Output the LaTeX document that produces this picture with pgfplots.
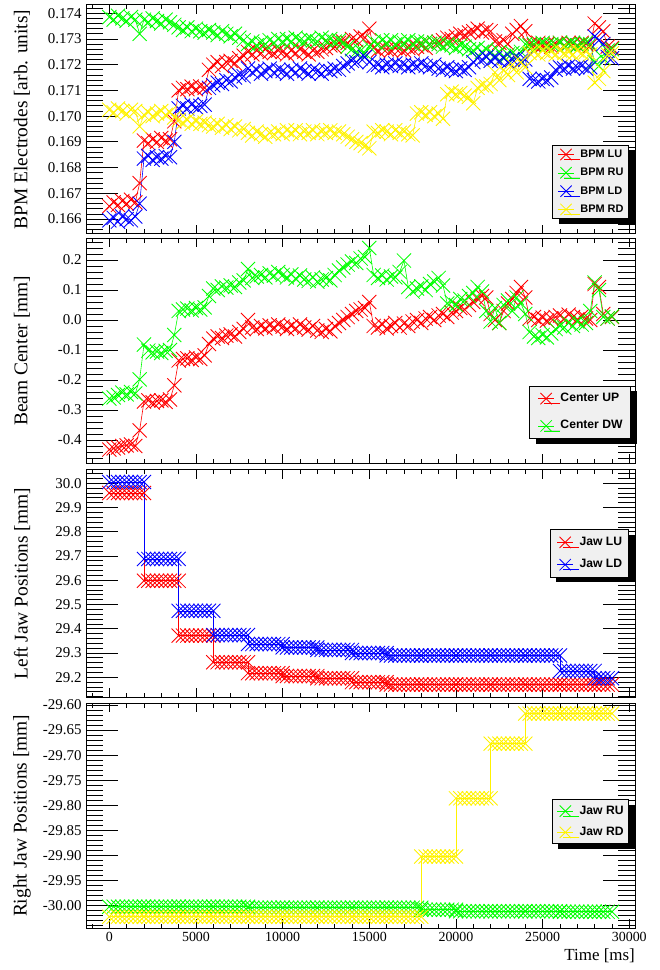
\documentclass[border=0pt]{standalone}
\usepackage{pgfplots}
\pgfplotsset{compat=1.18}
\usepackage{pgfplotstable}
\usepackage{fontspec}
\setmainfont{Liberation Serif}
\setsansfont{Liberation Sans}
\usetikzlibrary{shadows}
\definecolor{legbg}{RGB}{240,240,240}

\pgfplotstableread{
t LU RU LD RD
0 0.16650 0.17385 0.16595 0.17025
250 0.16665 0.17375 0.16605 0.17015
500 0.16655 0.17390 0.16590 0.17030
750 0.16670 0.17380 0.16610 0.17020
1000 0.16660 0.17370 0.16600 0.17010
1250 0.16675 0.17385 0.16595 0.17025
1500 0.16665 0.17375 0.16610 0.17020
1750 0.16740 0.17320 0.16660 0.16960
2000 0.16905 0.17375 0.16835 0.17005
2250 0.16895 0.17365 0.16845 0.17015
2500 0.16910 0.17380 0.16830 0.17000
2750 0.16900 0.17370 0.16840 0.17010
3000 0.16915 0.17360 0.16835 0.17020
3250 0.16905 0.17375 0.16845 0.17005
3500 0.16910 0.17365 0.16840 0.17015
3750 0.16980 0.17355 0.16900 0.16995
4000 0.17100 0.17345 0.17030 0.16985
4250 0.17110 0.17335 0.17040 0.16975
4500 0.17105 0.17345 0.17030 0.16985
4750 0.17115 0.17330 0.17045 0.16970
5000 0.17105 0.17340 0.17035 0.16980
5250 0.17115 0.17330 0.17040 0.16970
5500 0.17110 0.17325 0.17045 0.16975
5750 0.17180 0.17335 0.17110 0.16965
6000 0.17200 0.17325 0.17120 0.16960
6250 0.17210 0.17315 0.17130 0.16970
6500 0.17195 0.17330 0.17125 0.16955
6750 0.17210 0.17320 0.17140 0.16965
7000 0.17215 0.17310 0.17135 0.16950
7250 0.17205 0.17320 0.17150 0.16960
7500 0.17225 0.17305 0.17160 0.16945
7750 0.17235 0.17295 0.17155 0.16950
8000 0.17250 0.17280 0.17185 0.16935
8250 0.17240 0.17290 0.17170 0.16925
8500 0.17255 0.17275 0.17180 0.16940
8750 0.17245 0.17285 0.17165 0.16930
9000 0.17260 0.17280 0.17175 0.16920
9250 0.17250 0.17295 0.17185 0.16935
9500 0.17245 0.17285 0.17170 0.16930
9750 0.17255 0.17300 0.17180 0.16940
10000 0.17250 0.17290 0.17175 0.16930
10250 0.17240 0.17300 0.17165 0.16945
10500 0.17255 0.17290 0.17180 0.16935
10750 0.17245 0.17305 0.17170 0.16945
11000 0.17260 0.17295 0.17185 0.16930
11250 0.17250 0.17290 0.17175 0.16940
11500 0.17240 0.17300 0.17165 0.16935
11750 0.17255 0.17295 0.17180 0.16945
12000 0.17250 0.17290 0.17175 0.16930
12250 0.17260 0.17305 0.17165 0.16940
12500 0.17265 0.17295 0.17180 0.16935
12750 0.17275 0.17300 0.17175 0.16945
13000 0.17270 0.17290 0.17185 0.16935
13250 0.17285 0.17295 0.17180 0.16940
13500 0.17290 0.17285 0.17195 0.16930
13750 0.17285 0.17270 0.17205 0.16920
14000 0.17300 0.17260 0.17215 0.16910
14250 0.17295 0.17250 0.17210 0.16900
14500 0.17310 0.17255 0.17225 0.16895
14750 0.17305 0.17245 0.17230 0.16885
15000 0.17340 0.17270 0.17210 0.16875
15250 0.17265 0.17290 0.17195 0.16940
15500 0.17255 0.17280 0.17200 0.16935
15750 0.17265 0.17295 0.17190 0.16945
16000 0.17260 0.17285 0.17200 0.16940
16250 0.17255 0.17295 0.17195 0.16930
16500 0.17265 0.17280 0.17205 0.16945
16750 0.17260 0.17290 0.17195 0.16935
17000 0.17255 0.17285 0.17200 0.16940
17250 0.17265 0.17295 0.17190 0.16930
17500 0.17260 0.17280 0.17200 0.16925
17750 0.17270 0.17290 0.17195 0.17010
18000 0.17275 0.17285 0.17205 0.17015
18250 0.17265 0.17290 0.17195 0.17005
18500 0.17280 0.17280 0.17190 0.17015
18750 0.17285 0.17285 0.17200 0.17000
19000 0.17290 0.17280 0.17185 0.17010
19250 0.17295 0.17270 0.17180 0.16990
19500 0.17305 0.17280 0.17190 0.17085
19750 0.17300 0.17275 0.17180 0.17095
20000 0.17310 0.17265 0.17175 0.17085
20250 0.17320 0.17275 0.17185 0.17090
20500 0.17315 0.17270 0.17180 0.17080
20750 0.17325 0.17260 0.17190 0.17075
21000 0.17330 0.17255 0.17210 0.17050
21250 0.17340 0.17265 0.17225 0.17110
21500 0.17325 0.17250 0.17220 0.17120
21750 0.17335 0.17260 0.17230 0.17115
22000 0.17330 0.17245 0.17215 0.17125
22250 0.17290 0.17235 0.17225 0.17170
22500 0.17285 0.17250 0.17215 0.17140
22750 0.17295 0.17230 0.17225 0.17180
23000 0.17280 0.17240 0.17210 0.17160
23250 0.17320 0.17245 0.17220 0.17200
23500 0.17335 0.17235 0.17225 0.17170
23750 0.17350 0.17250 0.17215 0.17210
24000 0.17330 0.17280 0.17220 0.17190
24250 0.17280 0.17275 0.17145 0.17245
24500 0.17275 0.17280 0.17140 0.17250
24750 0.17285 0.17275 0.17135 0.17240
25000 0.17275 0.17285 0.17145 0.17255
25250 0.17280 0.17275 0.17140 0.17245
25500 0.17270 0.17280 0.17150 0.17250
25750 0.17280 0.17275 0.17180 0.17240
26000 0.17285 0.17285 0.17190 0.17255
26250 0.17275 0.17275 0.17185 0.17245
26500 0.17285 0.17280 0.17195 0.17250
26750 0.17280 0.17285 0.17185 0.17240
27000 0.17275 0.17275 0.17190 0.17255
27250 0.17285 0.17280 0.17195 0.17245
27500 0.17280 0.17285 0.17185 0.17250
27750 0.17275 0.17280 0.17190 0.17240
28000 0.17360 0.17210 0.17310 0.17130
28250 0.17345 0.17195 0.17295 0.17145
28500 0.17330 0.17225 0.17280 0.17175
28750 0.17270 0.17255 0.17230 0.17240
29000 0.17265 0.17260 0.17225 0.17245
}\bpmtab

\pgfplotstableread{
t UP DW
0 -0.432 -0.262
250 -0.428 -0.258
500 -0.425 -0.250
750 -0.420 -0.242
1000 -0.418 -0.248
1250 -0.415 -0.240
1500 -0.420 -0.245
1750 -0.368 -0.198
2000 -0.272 -0.082
2250 -0.268 -0.102
2500 -0.275 -0.108
2750 -0.270 -0.105
3000 -0.268 -0.110
3250 -0.273 -0.103
3500 -0.265 -0.100
3750 -0.218 -0.050
4000 -0.135 0.030
4250 -0.130 0.035
4500 -0.128 0.038
4750 -0.133 0.032
5000 -0.125 0.040
5250 -0.130 0.035
5500 -0.118 0.042
5750 -0.080 0.080
6000 -0.062 0.105
6250 -0.055 0.100
6500 -0.060 0.112
6750 -0.052 0.108
7000 -0.048 0.115
7250 -0.055 0.110
7500 -0.040 0.125
7750 -0.030 0.132
8000 0.000 0.170
8250 -0.025 0.140
8500 -0.030 0.145
8750 -0.020 0.150
9000 -0.028 0.142
9250 -0.018 0.155
9500 -0.025 0.148
9750 -0.015 0.160
10000 -0.022 0.150
10250 -0.030 0.142
10500 -0.020 0.152
10750 -0.028 0.138
11000 -0.015 0.148
11250 -0.025 0.135
11500 -0.032 0.130
11750 -0.020 0.142
12000 -0.035 0.128
12250 -0.040 0.135
12500 -0.030 0.140
12750 -0.038 0.132
13000 -0.020 0.150
13250 -0.010 0.165
13500 0.000 0.175
13750 0.010 0.185
14000 0.020 0.195
14250 0.030 0.190
14500 0.035 0.205
14750 0.040 0.210
15000 0.060 0.240
15250 -0.020 0.150
15500 -0.025 0.140
15750 -0.015 0.148
16000 -0.028 0.135
16250 -0.020 0.145
16500 -0.010 0.142
16750 -0.025 0.160
17000 -0.012 0.198
17250 -0.020 0.110
17500 -0.005 0.095
17750 0.000 0.105
18000 -0.010 0.112
18250 0.005 0.100
18500 0.010 0.120
18750 0.000 0.128
19000 0.015 0.140
19250 0.020 0.115
19500 0.010 0.055
19750 0.025 0.060
20000 0.030 0.050
20250 0.040 0.070
20500 0.035 0.065
20750 0.050 0.080
21000 0.060 0.090
21250 0.070 0.110
21500 0.080 0.095
21750 0.075 0.030
22000 0.020 -0.005
22250 0.000 0.040
22500 -0.010 -0.010
22750 0.030 0.050
23000 0.055 0.065
23250 0.070 0.030
23500 0.090 0.075
23750 0.110 0.055
24000 0.075 0.020
24250 0.005 -0.040
24500 0.010 -0.055
24750 0.000 -0.060
25000 0.008 -0.050
25250 -0.002 -0.058
25500 0.005 -0.045
25750 0.010 -0.030
26000 0.015 -0.020
26250 0.005 -0.025
26500 0.018 -0.010
26750 0.010 -0.020
27000 0.002 -0.005
27250 0.012 -0.015
27500 0.005 -0.010
27750 0.000 0.030
28000 0.120 0.125
28250 0.110 0.100
28500 0.020 0.010
28750 0.005 0.005
29000 0.010 0.012
}\centertab

\pgfplotstableread{
t LU LD RU RD
0 29.960 30.005 -30.002 -30.022
250 29.960 30.005 -30.002 -30.022
500 29.960 30.005 -30.002 -30.022
750 29.960 30.005 -30.002 -30.022
1000 29.960 30.005 -30.002 -30.022
1250 29.960 30.005 -30.002 -30.022
1500 29.960 30.005 -30.002 -30.022
1750 29.960 30.005 -30.002 -30.022
2000 29.960 30.005 -30.002 -30.022
2000 29.598 29.688 -30.002 -30.022
2250 29.598 29.688 -30.002 -30.022
2500 29.598 29.688 -30.002 -30.022
2750 29.598 29.688 -30.002 -30.022
3000 29.598 29.688 -30.002 -30.022
3250 29.598 29.688 -30.002 -30.022
3500 29.598 29.688 -30.002 -30.022
3750 29.598 29.688 -30.002 -30.022
4000 29.598 29.688 -30.002 -30.022
4000 29.372 29.474 -30.002 -30.022
4250 29.372 29.474 -30.002 -30.022
4500 29.372 29.474 -30.002 -30.022
4750 29.372 29.474 -30.002 -30.022
5000 29.372 29.474 -30.002 -30.022
5250 29.372 29.474 -30.002 -30.022
5500 29.372 29.474 -30.002 -30.022
5750 29.372 29.474 -30.002 -30.022
6000 29.372 29.474 -30.002 -30.022
6000 29.262 29.374 -30.002 -30.022
6250 29.262 29.374 -30.002 -30.022
6500 29.262 29.374 -30.002 -30.022
6750 29.262 29.374 -30.002 -30.022
7000 29.262 29.374 -30.002 -30.022
7250 29.262 29.374 -30.002 -30.022
7500 29.262 29.374 -30.002 -30.022
7750 29.262 29.374 -30.002 -30.022
8000 29.262 29.374 -30.002 -30.022
8000 29.217 29.337 -30.004 -30.022
8250 29.217 29.337 -30.004 -30.022
8500 29.217 29.337 -30.004 -30.022
8750 29.217 29.337 -30.004 -30.022
9000 29.217 29.337 -30.004 -30.022
9250 29.217 29.337 -30.004 -30.022
9500 29.217 29.337 -30.004 -30.022
9750 29.217 29.337 -30.004 -30.022
10000 29.217 29.337 -30.004 -30.022
10000 29.205 29.323 -30.004 -30.022
10250 29.205 29.323 -30.004 -30.022
10500 29.205 29.323 -30.004 -30.022
10750 29.205 29.323 -30.004 -30.022
11000 29.205 29.323 -30.004 -30.022
11250 29.205 29.323 -30.004 -30.022
11500 29.205 29.323 -30.004 -30.022
11750 29.205 29.323 -30.004 -30.022
12000 29.205 29.323 -30.004 -30.022
12000 29.196 29.313 -30.004 -30.022
12250 29.196 29.313 -30.004 -30.022
12500 29.196 29.313 -30.004 -30.022
12750 29.196 29.313 -30.004 -30.022
13000 29.196 29.313 -30.004 -30.022
13250 29.196 29.313 -30.004 -30.022
13500 29.196 29.313 -30.004 -30.022
13750 29.196 29.313 -30.004 -30.022
14000 29.196 29.313 -30.004 -30.022
14000 29.180 29.300 -30.004 -30.022
14250 29.180 29.300 -30.004 -30.022
14500 29.180 29.300 -30.004 -30.022
14750 29.180 29.300 -30.004 -30.022
15000 29.180 29.300 -30.004 -30.022
15250 29.180 29.300 -30.004 -30.022
15500 29.180 29.300 -30.004 -30.022
15750 29.180 29.300 -30.004 -30.022
16000 29.180 29.300 -30.004 -30.022
16000 29.170 29.290 -30.004 -30.022
16250 29.170 29.290 -30.004 -30.022
16500 29.170 29.290 -30.004 -30.022
16750 29.170 29.290 -30.004 -30.022
17000 29.170 29.290 -30.004 -30.022
17250 29.170 29.290 -30.004 -30.022
17500 29.170 29.290 -30.004 -30.022
17750 29.170 29.290 -30.004 -30.022
18000 29.170 29.290 -30.004 -30.022
18000 29.170 29.290 -30.008 -29.902
18250 29.170 29.290 -30.008 -29.902
18500 29.170 29.290 -30.008 -29.902
18750 29.170 29.290 -30.008 -29.902
19000 29.170 29.290 -30.008 -29.902
19250 29.170 29.290 -30.008 -29.902
19500 29.170 29.290 -30.008 -29.902
19750 29.170 29.290 -30.008 -29.902
20000 29.170 29.290 -30.008 -29.902
20000 29.170 29.290 -30.011 -29.786
20250 29.170 29.290 -30.011 -29.786
20500 29.170 29.290 -30.011 -29.786
20750 29.170 29.290 -30.011 -29.786
21000 29.170 29.290 -30.011 -29.786
21250 29.170 29.290 -30.011 -29.786
21500 29.170 29.290 -30.011 -29.786
21750 29.170 29.290 -30.011 -29.786
22000 29.170 29.290 -30.011 -29.786
22000 29.170 29.290 -30.011 -29.677
22250 29.170 29.290 -30.011 -29.677
22500 29.170 29.290 -30.011 -29.677
22750 29.170 29.290 -30.011 -29.677
23000 29.170 29.290 -30.011 -29.677
23250 29.170 29.290 -30.011 -29.677
23500 29.170 29.290 -30.011 -29.677
23750 29.170 29.290 -30.011 -29.677
24000 29.170 29.290 -30.011 -29.677
24000 29.170 29.290 -30.011 -29.617
24250 29.170 29.290 -30.011 -29.617
24500 29.170 29.290 -30.011 -29.617
24750 29.170 29.290 -30.011 -29.617
25000 29.170 29.290 -30.011 -29.617
25250 29.170 29.290 -30.011 -29.617
25500 29.170 29.290 -30.011 -29.617
25750 29.170 29.290 -30.011 -29.617
26000 29.170 29.290 -30.011 -29.617
26000 29.170 29.226 -30.012 -29.617
26250 29.170 29.226 -30.012 -29.617
26500 29.170 29.226 -30.012 -29.617
26750 29.170 29.226 -30.012 -29.617
27000 29.170 29.226 -30.012 -29.617
27250 29.170 29.226 -30.012 -29.617
27500 29.170 29.226 -30.012 -29.617
27750 29.170 29.226 -30.012 -29.617
28000 29.170 29.226 -30.012 -29.617
28000 29.170 29.196 -30.012 -29.617
28250 29.170 29.196 -30.012 -29.617
28500 29.170 29.196 -30.012 -29.617
28750 29.170 29.196 -30.012 -29.617
29000 29.170 29.196 -30.012 -29.617
}\jawtab

\pgfplotsset{
  rootaxis/.style={
    scale only axis, width=549bp,
    xmin=-1345, xmax=30330,
    xtick={0,5000,10000,15000,20000,25000,30000},
    minor xtick={-1000,0,...,30000},
    tick align=inside,
    major tick length=32bp, minor tick length=17bp,
    xtick style={/pgfplots/major tick length=9bp,/pgfplots/minor tick length=4.5bp},
    axis line style={line width=1bp},
    tick style={black, line width=0.8bp},
    /pgf/number format/assume math mode=true,
    scaled y ticks=false, scaled x ticks=false,
    yticklabel style={font=\fontsize{15}{17}\selectfont, xshift=-1bp},
    xticklabel style={font=\fontsize{14}{16}\selectfont},
    ylabel style={font=\fontsize{19.5}{22}\selectfont, at={(axis description cs:-0.1166,0.5)}, anchor=center},
    every axis plot/.append style={line width=0.6bp, mark=x, mark size=10bp, mark options={line width=0.85bp}},
    legend cell align=left,
    legend image code/.code={\draw[mark repeat=2,mark phase=2, mark size=8bp] plot coordinates {(0bp,0bp) (8bp,0bp) (16bp,0bp)}; \path (22bp,0bp);},
    legend style={fill=legbg, draw=black, line width=0.8bp, anchor=south east,
      drop shadow={shadow xshift=6bp, shadow yshift=-5bp, opacity=1, fill=black},
      nodes={inner sep=0pt, text height=8bp, text depth=2bp}},
  }
}

\begin{document}
\begin{tikzpicture}
\useasboundingbox (0,0) rectangle (660bp,970bp);

% Panel 1
\begin{axis}[rootaxis, at={(86bp,736bp)}, anchor=south west, height=229bp,
  ymin=0.16542, ymax=0.17432,
  ytick={0.166,0.167,0.168,0.169,0.170,0.171,0.172,0.173,0.174},
  minor ytick={0.1656,0.1658,...,0.1743},
  yticklabel style={/pgf/number format/fixed, /pgf/number format/fixed zerofill, /pgf/number format/precision=3},
  xticklabels={},
  ylabel={BPM Electrodes [arb. units]},
  legend style={at={(axis description cs:0.989,0.0655)},
    font=\sffamily\bfseries\fontsize{11}{12}\selectfont,
    inner xsep=5bp, inner ysep=3.5bp, row sep=7bp}]
\addplot[red] table[x=t,y=LU] {\bpmtab};
\addlegendentry{BPM LU}
\addplot[green] table[x=t,y=RU] {\bpmtab};
\addlegendentry{BPM RU}
\addplot[blue] table[x=t,y=LD] {\bpmtab};
\addlegendentry{BPM LD}
\addplot[yellow] table[x=t,y=RD] {\bpmtab};
\addlegendentry{BPM RD}
\end{axis}

% Panel 2
\begin{axis}[rootaxis, at={(86bp,506.7bp)}, anchor=south west, height=225bp,
  ymin=-0.4777, ymax=0.2723,
  ytick={-0.4,-0.3,-0.2,-0.1,0,0.1,0.2},
  minor ytick={-0.46,-0.44,...,0.27},
  yticklabel style={/pgf/number format/fixed, /pgf/number format/fixed zerofill, /pgf/number format/precision=1},
  xticklabels={},
  ylabel={Beam Center [mm]},
  legend style={at={(axis description cs:0.9927,0.108)},
    font=\sffamily\bfseries\fontsize{12.2}{14}\selectfont,
    inner xsep=8bp, inner ysep=7bp, row sep=16bp}]
\addplot[red] table[x=t,y=UP] {\centertab};
\addlegendentry{Center UP}
\addplot[green] table[x=t,y=DW] {\centertab};
\addlegendentry{Center DW}
\end{axis}

% Panel 3
\begin{axis}[rootaxis, at={(86bp,272.7bp)}, anchor=south west, height=227.3bp,
  ymin=29.1175, ymax=30.0548,
  ytick={29.2,29.3,29.4,29.5,29.6,29.7,29.8,29.9,30.0},
  minor ytick={29.12,29.14,...,30.05},
  yticklabel style={/pgf/number format/fixed, /pgf/number format/fixed zerofill, /pgf/number format/precision=1},
  xticklabels={},
  ylabel={Left Jaw Positions [mm]},
  legend style={at={(axis description cs:0.989,0.526)},
    font=\sffamily\bfseries\fontsize{12.2}{14}\selectfont,
    inner xsep=6.5bp, inner ysep=7bp, row sep=11bp}]
\addplot[red] table[x=t,y=LU] {\jawtab};
\addlegendentry{Jaw LU}
\addplot[blue] table[x=t,y=LD] {\jawtab};
\addlegendentry{Jaw LD}
\end{axis}

% Panel 4
\begin{axis}[rootaxis, at={(86bp,41.7bp)}, anchor=south west, height=225bp,
  ymin=-30.045, ymax=-29.5966,
  ytick={-30.00,-29.95,-29.90,-29.85,-29.80,-29.75,-29.70,-29.65,-29.60},
  minor ytick={-30.04,-30.03,...,-29.595},
  yticklabel style={/pgf/number format/fixed, /pgf/number format/fixed zerofill, /pgf/number format/precision=2},
  xticklabel style={/pgf/number format/fixed, /pgf/number format/1000 sep={}},
  ylabel={Right Jaw Positions [mm]},
  xlabel={Time [ms]},
  xlabel style={font=\fontsize{17}{19}\selectfont, at={(axis description cs:1,0)}, anchor=north east, inner sep=0pt, yshift=-20bp},
  legend style={at={(axis description cs:0.989,0.375)},
    font=\sffamily\bfseries\fontsize{12.2}{14}\selectfont,
    inner xsep=5bp, inner ysep=5.5bp, row sep=10bp}]
\addplot[green] table[x=t,y=RU] {\jawtab};
\addlegendentry{Jaw RU}
\addplot[yellow] table[x=t,y=RD] {\jawtab};
\addlegendentry{Jaw RD}
\end{axis}
\end{tikzpicture}
\end{document}
